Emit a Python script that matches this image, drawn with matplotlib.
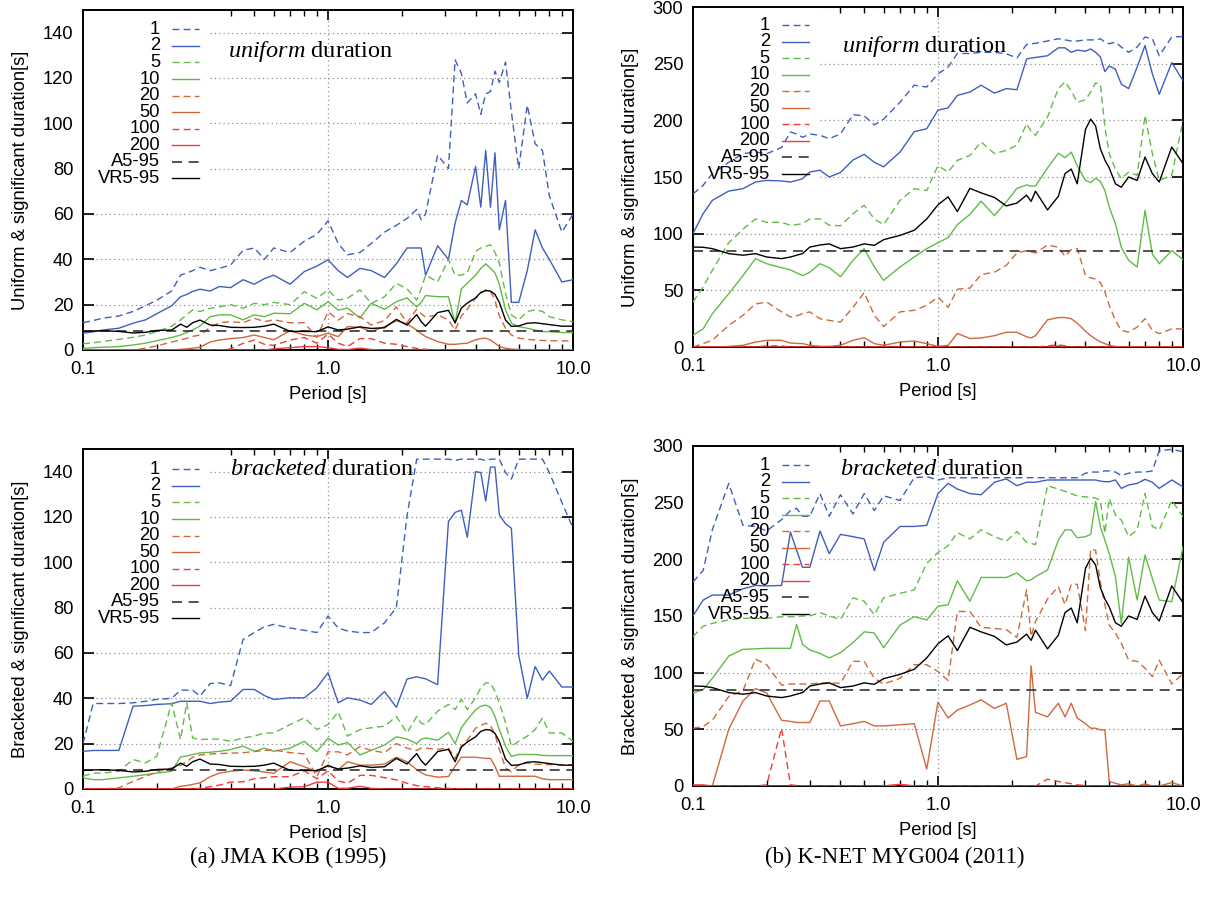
import matplotlib
matplotlib.use('Agg')
import matplotlib.pyplot as plt
from matplotlib.patches import Rectangle
from matplotlib.ticker import FixedLocator, FixedFormatter, LogLocator, NullFormatter, MultipleLocator

plt.rcParams['font.family'] = ['Liberation Sans', 'DejaVu Sans']
plt.rcParams['mathtext.fontset'] = 'custom'
plt.rcParams['mathtext.rm'] = 'Liberation Serif'
plt.rcParams['mathtext.it'] = 'Liberation Serif:italic'

# ---------------- data ----------------
period = [0.10, 0.11, 0.12, 0.14, 0.16, 0.18, 0.20, 0.23, 0.25, 0.265,
          0.28, 0.30, 0.33, 0.36, 0.40, 0.45, 0.50, 0.55, 0.60, 0.70,
          0.80, 0.90, 1.0, 1.1, 1.2, 1.35, 1.5, 1.7, 1.9, 2.1,
          2.3, 2.4, 2.5, 2.8, 3.1, 3.3, 3.5, 3.7, 4.0, 4.2,
          4.4, 4.6, 4.8, 5.0, 5.3, 5.6, 6.0, 6.5, 7.0, 7.5,
          8.0, 9.0, 10.0]

# JMA KOB (1995), uniform duration, thresholds 1..200
uni_kob_1 = [12, 13, 14, 15, 17, 19.5, 22, 26, 33, 34,
             35, 36.5, 35, 36, 37.5, 44, 45, 40, 45, 43,
             48, 51, 57, 47, 42, 43, 47, 52, 55, 58,
             62, 57.5, 60, 86, 80, 128, 122, 109, 113, 104,
             113, 114, 123, 118, 127, 105, 80, 108, 91, 88,
             68, 52, 60]
uni_kob_2 = [7.4, 8, 8.8, 9.6, 11.8, 13.3, 16, 19.5, 23.5, 24.5,
             25.8, 26.8, 26, 28, 27.5, 31, 29, 31.5, 33, 29,
             34.6, 37, 39.8, 35, 32, 36, 35, 32, 38, 45,
             45, 45, 33, 46, 40, 56, 66, 64, 81, 63,
             88, 63, 87, 53, 66, 21, 21, 35, 53, 45,
             40, 30, 31]
uni_kob_5 = [2.7, 3.2, 3.7, 4.7, 5.6, 6.6, 8.1, 10.5, 13.3, 15.5,
             17.7, 17, 18.4, 19, 20, 18.4, 20.6, 20, 21, 20,
             25.7, 22.8, 26.5, 22, 22.8, 26.5, 20.5, 23.5, 29.4, 27,
             22, 27, 33, 30, 40, 33, 33, 34, 43.5, 45,
             45.7, 46.4, 43, 38.3, 25, 15.5, 13.3, 17, 17.7, 17,
             14.7, 13.3, 12.5]
uni_kob_10 = [0.7, 1, 1.2, 1.5, 2.2, 3, 4.1, 5.5, 6.6, 7.7,
              8.8, 10.6, 14.7, 15.5, 15.5, 13.3, 15.5, 14.7, 16.2, 16,
              20.6, 17.7, 21.3, 17.6, 18.5, 14.1, 20.6, 18, 21.3, 23,
              19, 21, 24, 23.5, 23.5, 11.8, 27, 29.4, 33, 36,
              38, 36, 34, 29, 17.7, 11.8, 10.3, 9.6, 8.8, 8.1,
              8.1, 7.7, 7.7]
uni_kob_20 = [0, 0, 0, 0, 0, 0.8, 1.8, 3.5, 4.4, 5.2,
              6, 6.6, 10, 12, 12.5, 12, 14, 12.5, 13.3, 12,
              12, 5.5, 16.9, 13.2, 16, 14.7, 11, 13, 19, 12,
              18, 16, 14.5, 15.5, 13.2, 8.8, 15, 18, 22.8, 25,
              26.5, 26, 22, 15, 9.6, 6.6, 5.2, 4.7, 4.4, 4.2,
              4.1, 4, 4]
uni_kob_50 = [0, 0, 0, 0, 0, 0, 0, 0, 0.3, 0.5,
              0.8, 1.2, 3.5, 4.4, 5, 5.5, 6.6, 5.5, 4.5, 8.5,
              6.6, 5.9, 7.4, 5.9, 10.3, 10, 8.1, 10.3, 12.9, 11.5,
              8.8, 7.2, 5.9, 3.7, 2.5, 2.5, 2.8, 3, 4.5, 5,
              5.2, 4.4, 3, 1.5, 0.8, 0.4, 0.2, 0.1, 0.1, 0.1,
              0.1, 0.1, 0.1]
uni_kob_100 = [0, 0, 0, 0, 0, 0, 0, 0, 0, 0,
               0, 0, 0, 0, 0.5, 2.9, 4.4, 2.5, 2, 4.4,
               5.5, 3, 7, 3, 1.5, 5, 5, 3, 2.5, 1.5,
               0.7, 0.5, 0.3, 0, 0, 0, 0, 0, 0, 0,
               0, 0, 0, 0, 0, 0, 0, 0, 0, 0,
               0, 0, 0]
uni_kob_200 = [0, 0, 0, 0, 0, 0, 0, 0, 0, 0,
               0, 0, 0, 0, 0, 0, 0, 0, 0.5, 1,
               1.5, 1.5, 1, 0.3, 0.2, 0.8, 0.2, 0, 0, 0,
               0, 0, 0, 0, 0, 0, 0, 0, 0, 0,
               0, 0, 0, 0, 0, 0, 0, 0, 0, 0,
               0, 0, 0]

# JMA KOB (1995), bracketed duration
bra_kob_1 = [20, 37.7, 37.7, 37.7, 38, 38.7, 39.5, 40, 43.6, 43.6,
             43.6, 41, 46.5, 46.8, 45.6, 66, 69, 71.6, 72.6, 71,
             70, 69, 76.3, 71, 69.7, 69, 69, 73.3, 80, 120.5,
             145.5, 145.5, 145.5, 145.5, 145.5, 145, 145.5, 145.5, 145.5, 145.5,
             144.8, 145.5, 145.5, 145.5, 139.6, 136.7, 145.5, 145.5, 145.5, 145.5,
             139.6, 126.4, 115]
bra_kob_2 = [16.6, 17, 17, 17, 36.5, 36.8, 37.3, 37.6, 38.7, 38.7,
             38.7, 38.7, 37.7, 38.3, 38.7, 43.9, 43.9, 41.2, 39.5, 40.2,
             40.2, 44.6, 51.3, 38, 40.2, 39.2, 37.3, 43, 36, 48.5,
             49.5, 49, 48.6, 46, 118, 122, 123, 111, 140, 139.6,
             127, 142, 142, 121, 117, 115, 59, 40, 54, 48,
             52, 45, 45]
bra_kob_5 = [5.6, 7, 7, 7.8, 13, 11.5, 14.4, 38, 21.8, 38,
             22.5, 21.8, 22, 22, 21, 22.5, 23.3, 24.7, 24.7, 28.4,
             31.4, 26.2, 28.4, 34, 23.3, 26.2, 27, 27.7, 32, 24.7,
             32, 29, 28.4, 34.3, 37.3, 35, 39.5, 35, 40.2, 44.6,
             46.8, 46.8, 43, 38, 29.2, 18.9, 21, 23.3, 26.2, 31.4,
             24.7, 24.7, 21]
bra_kob_10 = [4.9, 4.1, 4.1, 4.9, 5.6, 6.3, 7, 7.8, 14.1, 14.5,
              15.2, 15.9, 16.2, 16.6, 17.4, 18.9, 16.6, 18, 16.6, 18,
              21, 16.5, 22.4, 19.4, 20.5, 15, 17, 19.4, 23, 22,
              20, 22, 22.5, 21.5, 25, 20, 27, 30.5, 34.9, 36.5,
              37, 36, 32, 26.2, 18.9, 14.4, 15.2, 15.2, 15.2, 14.8,
              14.7, 14.7, 14.7]
bra_kob_20 = [0, 0, 0, 0.5, 3.3, 5.5, 7.6, 9.3, 10.4, 12,
              14, 15, 15.4, 15.6, 15.8, 16, 16.5, 17, 17.2, 16,
              15.5, 5.4, 16.4, 16.4, 15, 18.7, 17, 16, 20, 18,
              17, 18, 18, 17.5, 18, 13.5, 19, 21.5, 26.8, 28,
              29, 28, 24, 17.4, 9.3, 7.5, 10.7, 11.5, 11, 10.8,
              10.7, 10.7, 10.7]
bra_kob_50 = [0, 0, 0, 0, 0, 0, 0, 0, 1.2, 1.5,
              2, 2.7, 5.4, 7, 7.8, 8.4, 8, 7.5, 6.9, 12,
              9.8, 7.6, 10.6, 8.5, 12, 10.5, 10.5, 11, 14, 12,
              8.5, 7.2, 6.2, 5.2, 5.5, 10, 14, 14, 14, 13.7,
              13.5, 13.5, 10, 5.6, 5.6, 5.6, 5.6, 5.6, 5.6, 4.5,
              4.1, 4.1, 4.1]
bra_kob_100 = [0, 0, 0, 0, 0, 0, 0, 0, 0, 0,
               0, 0.3, 1, 1.7, 3, 3.2, 4.5, 5, 5.4, 5.4,
               8, 4.5, 8, 3.5, 2.5, 6, 6, 5, 4, 2.5,
               1.5, 1.2, 1, 0.5, 0.3, 0, 0, 0, 0, 0,
               0, 0, 0, 0, 0, 0, 0, 0, 0, 0,
               0, 0, 0]
bra_kob_200 = [0, 0, 0, 0, 0, 0, 0, 0, 0, 0,
               0, 0, 0, 0, 0, 0, 0, 0, 0, 0.8,
               1, 3, 3, 0.3, 0.3, 1.2, 0.3, 0, 0, 0,
               0, 0, 0, 0, 0, 0, 0, 0, 0, 0,
               0, 0, 0, 0, 0, 0, 0, 0, 0, 0,
               0, 0, 0]

# K-NET MYG004 (2011), uniform duration
uni_myg_1 = [135, 142.6, 153, 163, 170.6, 172, 170.6, 176, 189.7, 188,
             185, 188, 186.8, 183.8, 188, 205, 204, 196, 201, 216,
             231, 229.4, 241, 247, 259, 259, 260, 260, 258.8, 255,
             267, 267.5, 268, 270, 272, 271, 270, 270, 271, 271,
             271, 272, 269, 267.6, 269, 264.7, 260, 264.7, 273.5, 272,
             257, 273.5, 274]
uni_myg_2 = [100, 117.6, 129.4, 137.6, 139.7, 145.6, 147, 146.5, 145.6, 147,
             148.5, 154.4, 156, 150, 154, 165, 170, 163, 159, 172,
             190, 192.6, 209, 211, 222, 225, 231, 224, 228, 227,
             254, 255, 255.5, 257, 264, 264, 260, 262, 261, 263,
             260, 256, 243, 248, 245, 232, 228, 247, 266, 241,
             223, 251, 235]
uni_myg_5 = [39.7, 53, 67.6, 92, 104, 113, 110, 110, 107.4, 108,
             108.8, 113, 113, 107.4, 107, 117.6, 125, 113, 108, 129.4,
             139.7, 138, 160, 154.4, 164.7, 169, 181, 170.6, 173.5, 178,
             197, 190, 186.8, 203, 228, 234, 226, 216, 218, 225,
             233, 232, 194, 170.6, 157, 148.5, 154.4, 151.5, 204.4, 170.6,
             147, 151.5, 200]
uni_myg_10 = [10.3, 16, 29.4, 47, 63, 78, 73.5, 70, 68, 65.5,
              63, 66, 73.5, 70, 62, 76.5, 86.8, 70.6, 58.8, 70.6,
              79.4, 86.8, 92, 96.5, 108, 117, 128.7, 116, 128, 140,
              143, 142, 142, 158, 171, 167, 172, 160, 147, 145,
              149, 146, 138, 123.5, 108.8, 88, 76.5, 70.6, 120.6, 82,
              73.5, 85, 77]
uni_myg_20 = [0, 3, 6, 19, 28, 38, 39.7, 31, 26.5, 27.5,
              29.4, 31, 25, 23.5, 22, 35, 48, 28, 18, 31,
              32.4, 36.8, 44, 35, 51, 52, 64, 66, 72, 83,
              85, 84, 83, 90, 88, 80, 86, 87, 63, 61,
              60, 57, 48.5, 36.8, 23.5, 14.7, 13.2, 17.6, 25, 14.7,
              11.8, 16, 16]
uni_myg_50 = [0, 0, 0, 0.5, 1.5, 4.4, 5.9, 5.9, 3.5, 3.2,
              3, 1.5, 0.6, 0.6, 1.5, 5.9, 8.2, 3, 1.5, 4.4,
              5.3, 3, 0.6, 1.5, 12, 7.5, 8, 10, 13, 13,
              9, 8, 10, 24, 26, 26, 25, 21, 14, 10,
              7, 4.5, 3, 1.5, 0.5, 0, 0, 0, 0, 0,
              0, 0, 0]
uni_myg_100 = [0, 0, 0, 0, 0, 0, 1, 1, 0, 0,
               0, 0, 0, 0, 0, 0, 0, 0, 0, 0,
               0, 0, 0, 0, 0, 0, 0, 0, 0, 0,
               0, 0, 0, 1, 2, 1, 0, 0, 0, 0,
               0, 0, 0, 0, 0, 0, 0, 0, 0, 0,
               0, 0, 0]
uni_myg_200 = [0, 0, 0, 0, 0, 0, 0, 0, 0, 0,
               0, 0, 0, 0, 0, 0, 0, 0, 0, 0,
               0, 0, 0, 0, 0, 0, 0, 0, 0, 0,
               0, 0, 0, 0, 1, 0, 0, 0, 0, 0,
               0, 0, 0, 0, 0, 0, 0, 0, 0, 0,
               0, 0, 0]

# K-NET MYG004 (2011), bracketed duration
bra_myg_1 = [180, 190, 226, 267, 230, 229, 225, 235, 243, 245,
             238, 238, 258, 238, 257, 240, 258, 243, 256, 252,
             272, 273, 270, 272, 272, 272, 272, 272, 272, 272,
             272, 272, 272, 272, 272, 272, 272, 272, 276, 277,
             277, 277, 278, 278, 277, 274, 276, 277, 277, 278,
             296, 297, 295]
bra_myg_2 = [150, 164, 168.5, 168.5, 174, 177, 176.5, 177, 224, 208,
             193, 193, 225, 205, 222, 220, 218, 190, 215, 229,
             229, 230, 258, 267, 262, 258, 257, 268, 271, 265,
             268, 268, 268, 270, 270, 270, 270, 270, 270, 270,
             270, 269, 268.5, 268.5, 270, 262.6, 265.6, 267, 270.6, 268,
             262.6, 270, 264]
bra_myg_5 = [131.8, 141, 143.5, 146.5, 148, 148, 148, 149.4, 149.4, 149.4,
             150, 150, 153, 150, 147, 166, 163, 151, 166, 170,
             173, 196.5, 206, 212, 223.5, 218, 226, 220, 216, 224.5,
             215, 214, 213, 265, 262, 260, 258, 256, 255, 255,
             254, 252, 223, 253.8, 239, 234.7, 220, 226, 258, 229,
             226, 252, 237.6]
bra_myg_10 = [82, 85, 95, 114.7, 120.6, 121, 121.5, 121.5, 121.5, 142.6,
              125, 120, 117, 113, 117.6, 126.5, 136, 135, 122, 142,
              149.4, 146.5, 158.5, 160, 181, 163, 184, 184, 184, 188,
              181, 182, 184.7, 190.6, 217, 226, 226, 219, 220, 222,
              251, 228.8, 217, 205, 184.7, 143.5, 202, 164, 203.8, 183,
              164, 162.6, 211]
bra_myg_20 = [51, 52.4, 58, 79, 84, 112, 107, 89, 90, 90,
              90, 90, 91, 91, 90.6, 110, 110, 95, 90, 95,
              107, 107, 101, 93, 154, 154, 140, 139, 138, 131,
              173, 132, 145, 165, 176, 160, 178, 178, 137, 209,
              208, 180, 160, 142, 135, 126, 111, 110, 104, 96.5,
              111, 90, 99]
bra_myg_50 = [0, 0, 0, 50, 75, 86, 82, 58, 57, 56,
              56, 56, 75, 75, 53, 55, 57, 53, 53, 54,
              55, 15, 74, 60, 67, 71.5, 76, 68.5, 73, 23.5,
              26, 106, 65, 61, 73, 61, 73, 60, 55, 51,
              51, 49.5, 49.5, 4, 2.4, 1, 2, 0, 2, 0,
              0, 3, 0]
bra_myg_100 = [0, 0, 0, 0, 0, 0, 1, 51, 1, 0.5,
               0, 0, 0, 0, 0, 0, 0, 0, 0, 1,
               0, 0, 0, 0, 0, 0, 0, 0, 0, 0,
               0, 0, 0, 6, 4, 3, 2, 1, 0.5, 0,
               0, 0, 0, 0, 0, 0, 0, 0, 0, 0,
               0, 0, 0]
bra_myg_200 = [1, 1, 0, 0, 0, 0, 0, 0, 0, 0,
               0, 0, 0, 0, 0, 0, 0, 0, 0, 1.5,
               0, 0, 0, 0, 0, 0, 0, 0, 0, 0,
               0, 0, 0, 0, 0, 0, 0, 0, 0, 0,
               0, 0, 0, 0, 0, 0, 0, 0, 0, 0,
               0, 0, 0]

# significant durations (same in both rows of a station)
vr595_kob = [8.2, 8.4, 8.5, 8.2, 7.5, 7.8, 8.6, 8.8, 11.4, 10,
             12, 13.2, 11, 10.8, 10, 9.9, 10, 10.5, 11.4, 8.2,
             8.2, 8.1, 10.2, 8.8, 9.2, 10.2, 9.5, 9.8, 13.5, 11,
             15.6, 12.5, 10.5, 16.5, 17.5, 12, 18.5, 20.7, 23, 25.4,
             26.2, 26, 24.5, 21, 13.2, 10.4, 10.6, 11.8, 12, 11.6,
             11.2, 10.5, 10.5]
vr595_myg = [88.2, 88, 86.8, 82.4, 81, 82.4, 79.4, 78, 79.4, 81,
             82.4, 88.2, 90, 91, 86.8, 88.2, 91, 89.7, 94.7, 98.5,
             103, 113, 125.5, 132.5, 119.5, 140, 136, 132, 124.5, 127,
             134, 128.5, 137.5, 121, 133, 153, 157, 144, 192, 201,
             195, 175, 165, 158, 144, 141, 150, 147, 167.6, 153,
             145.6, 176.5, 161.8]
a595_kob = 8.3
a595_myg = 85.0

labels = ['1', '2', '5', '10', '20', '50', '100', '200', 'A5-95', 'VR5-95']

# ---------------- styles ----------------
BLUE = '#3f5fbf'
GREEN = '#62bb47'
ORANGE = '#d0683c'
RED = '#f23a3a'
DASH = (0, (5, 3))
colors = [BLUE, BLUE, GREEN, GREEN, ORANGE, ORANGE, RED, RED, '#333333', 'black']
styles = [DASH, '-', DASH, '-', DASH, '-', DASH, '-', (0, (6, 4)), '-']
widths = [1.0] * 8 + [1.2, 1.0]
FS = 13.2


def panel(ax, curves, a595, vr, ymax, ystep, ylabel, word, leg_top, word_xy):
    ax.set_axisbelow(True)
    # gnuplot key area hides the grid
    ax.add_patch(Rectangle((0, 0.48), 0.258, 0.52, transform=ax.transAxes,
                           facecolor='white', edgecolor='none', zorder=1))
    for vals, col, ls, lw in zip(curves, colors[:8], styles[:8], widths[:8]):
        ax.plot(period, vals, color=col, ls=ls, lw=lw, zorder=3)
    ax.axhline(a595, color=colors[8], ls=styles[8], lw=widths[8], zorder=3)
    ax.plot(period, vr, color=colors[9], lw=widths[9], zorder=3)

    # key: right aligned labels, sample to the right
    for i, lab in enumerate(labels):
        y = leg_top - i * 0.0487
        ax.text(0.157, y, lab, transform=ax.transAxes, ha='right', va='center',
                fontsize=FS, zorder=4)
        ax.plot([0.182, 0.237], [y, y], transform=ax.transAxes, color=colors[i],
                ls=styles[i], lw=widths[i], zorder=4, clip_on=False)

    ax.text(word_xy[0], word_xy[1], r'$\mathit{' + word + '}$ duration',
            transform=ax.transAxes, fontfamily='Liberation Serif', fontsize=17.5,
            ha='left', va='center', zorder=4)

    ax.set_xscale('log')
    ax.set_xlim(0.1, 10)
    ax.set_ylim(0, ymax)
    ax.xaxis.set_major_locator(FixedLocator([0.1, 1, 10]))
    ax.xaxis.set_major_formatter(FixedFormatter(['0.1', '1.0', '10.0']))
    ax.xaxis.set_minor_locator(LogLocator(base=10, subs=(2, 3, 4, 5, 6, 7, 8, 9), numticks=10))
    ax.xaxis.set_minor_formatter(NullFormatter())
    ax.yaxis.set_major_locator(MultipleLocator(ystep))
    ax.tick_params(which='both', direction='in', top=True, right=True)
    ax.tick_params(axis='x', which='major', length=7, width=1.2, pad=8, labelsize=FS)
    ax.tick_params(axis='x', which='minor', length=4, width=1.0)
    ax.tick_params(axis='y', which='major', length=8, width=1.2, pad=7, labelsize=FS)
    ax.grid(True, which='major', ls=(0, (1, 2.5)), color='#909090', lw=0.9)
    for s in ax.spines.values():
        s.set_linewidth(1.4)
    ax.set_ylabel(ylabel, fontsize=FS)
    ax.yaxis.set_label_coords(-0.111, 0.5)
    ax.set_xlabel('Period [s]', fontsize=FS)
    ax.xaxis.set_label_coords(0.5, -0.105)


fig = plt.figure(figsize=(12.07, 8.99), dpi=100)
ax_tl = fig.add_axes([0.0688, 0.6107, 0.406, 0.3782])
ax_tr = fig.add_axes([0.5741, 0.6140, 0.406, 0.3782])
ax_bl = fig.add_axes([0.0688, 0.1224, 0.406, 0.3782])
ax_br = fig.add_axes([0.5741, 0.1257, 0.406, 0.3782])

panel(ax_tl, [uni_kob_1, uni_kob_2, uni_kob_5, uni_kob_10, uni_kob_20, uni_kob_50, uni_kob_100, uni_kob_200],
      a595_kob, vr595_kob, 150, 20, 'Uniform & significant duration[s]', 'uniform', 0.943, (0.295, 0.877))
panel(ax_tr, [uni_myg_1, uni_myg_2, uni_myg_5, uni_myg_10, uni_myg_20, uni_myg_50, uni_myg_100, uni_myg_200],
      a595_myg, vr595_myg, 300, 50, 'Uniform & significant duration[s]', 'uniform', 0.947, (0.304, 0.883))
panel(ax_bl, [bra_kob_1, bra_kob_2, bra_kob_5, bra_kob_10, bra_kob_20, bra_kob_50, bra_kob_100, bra_kob_200],
      a595_kob, vr595_kob, 150, 20, 'Bracketed & significant duration[s]', 'bracketed', 0.940, (0.300, 0.940))
panel(ax_br, [bra_myg_1, bra_myg_2, bra_myg_5, bra_myg_10, bra_myg_20, bra_myg_50, bra_myg_100, bra_myg_200],
      a595_myg, vr595_myg, 300, 50, 'Bracketed & significant duration[s]', 'bracketed', 0.944, (0.300, 0.932))

fig.text(0.2386, 0.0467, '(a) JMA KOB (1995)', ha='center', va='center',
         fontfamily='Liberation Serif', fontsize=16.5)
fig.text(0.7415, 0.0467, '(b) K-NET MYG004 (2011)', ha='center', va='center',
         fontfamily='Liberation Serif', fontsize=16.5)

fig.savefig('out.png', dpi=100)
